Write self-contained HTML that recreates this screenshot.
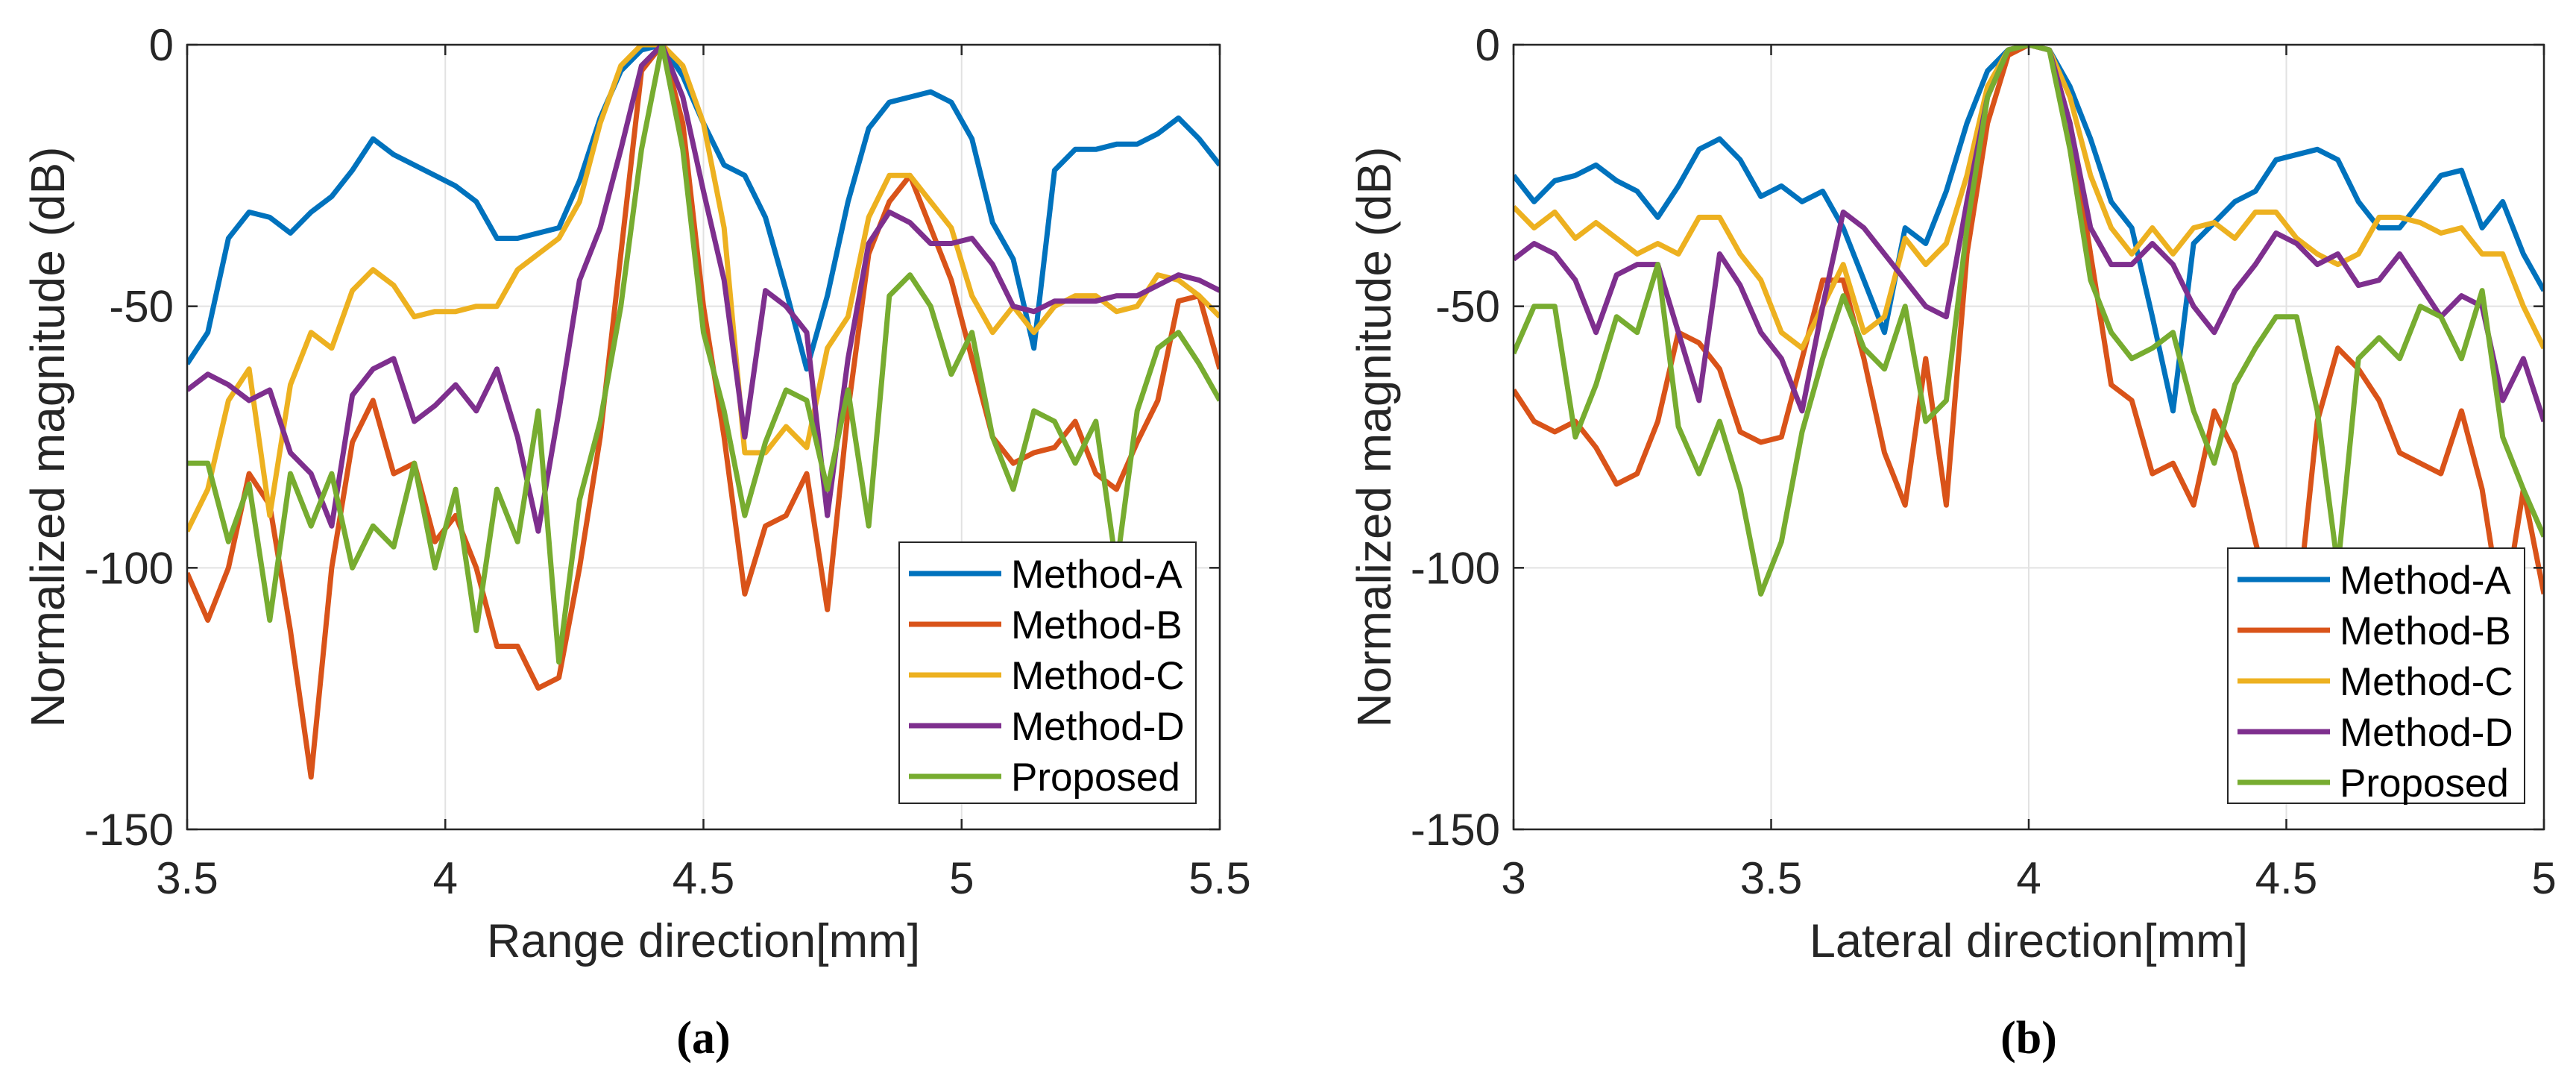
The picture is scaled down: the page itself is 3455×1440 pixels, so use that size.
<!DOCTYPE html>
<html><head><meta charset="utf-8"><style>
html,body{margin:0;padding:0;background:#fff;}
svg{display:block;font-family:"Liberation Sans",sans-serif;}
</style></head><body>
<svg id="fig" width="3455" height="1440" viewBox="0 0 3455 1440" xmlns="http://www.w3.org/2000/svg"></svg>
<script>
const xA = [];for(let i=0;i<51;i++) xA.push(+(3.5+i*0.04).toFixed(2));
const xB = [];for(let i=0;i<51;i++) xB.push(+(3.0+i*0.04).toFixed(2));
const seriesNames = ["Method-A","Method-B","Method-C","Method-D","Proposed"];
const colors = ["#0072BD","#D95319","#EDB120","#7E2F8E","#77AC30"];
const aMethodA=[-61,-55,-37,-32,-33,-36,-32,-29,-24,-18,-21,-23,-25,-27,-30,-37,-37,-36,-35,-26,-14,-5,-1,0,-6,-15,-23,-25,-33,-47,-62,-48,-30,-16,-11,-10,-9,-11,-18,-34,-41,-58,-24,-20,-20,-19,-19,-17,-14,-18,-23];
const aMethodB=[-101,-110,-100,-82,-88,-112,-140,-100,-76,-68,-82,-80,-95,-90,-100,-115,-115,-123,-121,-100,-75,-40,-5,0,-15,-50,-75,-105,-92,-90,-82,-108,-70,-40,-30,-25,-35,-45,-60,-75,-80,-78,-77,-72,-82,-85,-76,-68,-49,-48,-62];
const aMethodC=[-93,-85,-68,-62,-90,-65,-55,-58,-47,-43,-46,-52,-51,-51,-50,-50,-43,-40,-37,-30,-15,-4,0,0,-4,-15,-35,-78,-78,-73,-77,-58,-52,-33,-25,-25,-30,-35,-48,-55,-50,-55,-50,-48,-48,-51,-50,-44,-45,-48,-52];
const aMethodD=[-66,-63,-65,-68,-66,-78,-82,-92,-67,-62,-60,-72,-69,-65,-70,-62,-75,-93,-70,-45,-35,-20,-4,0,-10,-28,-45,-75,-47,-50,-55,-90,-60,-38,-32,-34,-38,-38,-37,-42,-50,-51,-49,-49,-49,-48,-48,-46,-44,-45,-47];
const aProposed=[-80,-80,-95,-84,-110,-82,-92,-82,-100,-92,-96,-80,-100,-85,-112,-85,-95,-70,-118,-87,-72,-50,-20,0,-20,-55,-70,-90,-76,-66,-68,-85,-66,-92,-48,-44,-50,-63,-55,-75,-85,-70,-72,-80,-72,-100,-70,-58,-55,-61,-68];
const bMethodA=[-25,-30,-26,-25,-23,-26,-28,-33,-27,-20,-18,-22,-29,-27,-30,-28,-35,-45,-55,-35,-38,-28,-15,-5,-1,0,-1,-8,-18,-30,-35,-52,-70,-38,-34,-30,-28,-22,-21,-20,-22,-30,-35,-35,-30,-25,-24,-35,-30,-40,-47];
const bMethodB=[-66,-72,-74,-72,-77,-84,-82,-72,-55,-57,-62,-74,-76,-75,-60,-45,-45,-60,-78,-88,-60,-88,-40,-15,-2,0,-1,-15,-40,-65,-68,-82,-80,-88,-70,-78,-95,-110,-110,-72,-58,-62,-68,-78,-80,-82,-70,-85,-110,-85,-105];
const bMethodC=[-31,-35,-32,-37,-34,-37,-40,-38,-40,-33,-33,-40,-45,-55,-58,-50,-42,-55,-52,-37,-42,-38,-25,-8,-1,0,-1,-10,-25,-35,-40,-35,-40,-35,-34,-37,-32,-32,-37,-40,-42,-40,-33,-33,-34,-36,-35,-40,-40,-50,-58];
const bMethodD=[-41,-38,-40,-45,-55,-44,-42,-42,-55,-68,-40,-46,-55,-60,-70,-50,-32,-35,-40,-45,-50,-52,-30,-10,-1,0,-1,-15,-35,-42,-42,-38,-42,-50,-55,-47,-42,-36,-38,-42,-40,-46,-45,-40,-46,-52,-48,-50,-68,-60,-72];
const bProposed=[-59,-50,-50,-75,-65,-52,-55,-42,-73,-82,-72,-85,-105,-95,-74,-60,-48,-58,-62,-50,-72,-68,-35,-10,-1,0,-1,-20,-45,-55,-60,-58,-55,-70,-80,-65,-58,-52,-52,-70,-100,-60,-56,-60,-50,-52,-60,-47,-75,-85,-94];
const aTicks=[3.5,4,4.5,5,5.5], aTickLabels=["3.5","4","4.5","5","5.5"];
const bTicks=[3,3.5,4,4.5,5], bTickLabels=["3","3.5","4","4.5","5"];
const yTicks=[0,-50,-100,-150], yTickLabels=["0","-50","-100","-150"];

const NS="http://www.w3.org/2000/svg";
const svg=document.getElementById('fig');
function mk(tag,attrs,parent){const e=document.createElementNS(NS,tag);for(const k in attrs)e.setAttribute(k,attrs[k]);(parent||svg).appendChild(e);return e;}

function panel(id,L,R,xmin,xmax,xs,data,ticks,tickLabels,xlabel,letter,legX){
  const T=60,B=1112;
  const g=mk('g',{});
  
  
  const sx=v=>L+(v-xmin)/(xmax-xmin)*(R-L);
  const sy=v=>T+(0-v)/150*(B-T);
  const cid='clip'+id;
  const cp=mk('clipPath',{id:cid},g);mk('rect',{x:L,y:T,width:R-L,height:B-T},cp);
  ticks.forEach(t=>{const l=mk('line',{x1:sx(t),x2:sx(t),y1:T,y2:B,stroke:'#e2e2e2','stroke-width':2},g);
    });
  yTicks.forEach(t=>{const l=mk('line',{x1:L,x2:R,y1:sy(t),y2:sy(t),stroke:'#e2e2e2','stroke-width':2},g);
    });
  const lg=mk('g',{'clip-path':'url(#'+cid+')'},g);
  data.forEach((arr,i)=>{
    const pts=arr.map((v,j)=>sx(xs[j]).toFixed(1)+','+sy(v).toFixed(1)).join(' ');
    const p=mk('polyline',{points:pts,fill:'none',stroke:colors[i],'stroke-width':7,'stroke-linejoin':'round'},lg);
    
    
  });
  const box=mk('rect',{x:L,y:T,width:R-L,height:B-T,fill:'none',stroke:'#262626','stroke-width':2.5},g);
  
  ticks.forEach((t,i)=>{
    mk('line',{x1:sx(t),x2:sx(t),y1:B,y2:B-14,stroke:'#262626','stroke-width':2.5},g);
    mk('line',{x1:sx(t),x2:sx(t),y1:T,y2:T+14,stroke:'#262626','stroke-width':2.5},g);
    const tx=mk('text',{x:sx(t),y:B+86,'font-size':60,'text-anchor':'middle',fill:'#262626'},g);
    tx.textContent=tickLabels[i];
    
  });
  yTicks.forEach((t,i)=>{
    mk('line',{x1:L,x2:L+14,y1:sy(t),y2:sy(t),stroke:'#262626','stroke-width':2.5},g);
    mk('line',{x1:R,x2:R-14,y1:sy(t),y2:sy(t),stroke:'#262626','stroke-width':2.5},g);
    const tx=mk('text',{x:L-18,y:sy(t)+21,'font-size':60,'text-anchor':'end',fill:'#262626'},g);
    tx.textContent=yTickLabels[i];
    
  });
  const xl=mk('text',{x:(L+R)/2,y:1283,'font-size':63,'text-anchor':'middle',fill:'#262626'},g);
  xl.textContent=xlabel;
  const yx=L-165, yy=(T+B)/2;
  const yl=mk('text',{x:yx,y:yy,'font-size':64,'text-anchor':'middle',fill:'#262626',transform:'rotate(-90 '+yx+' '+yy+')'},g);
  yl.textContent='Normalized magnitude (dB)';
  const cap=mk('text',{x:(L+R)/2,y:1412,'font-size':62,'font-weight':'bold','text-anchor':'middle',fill:'#000','font-family':'"Liberation Serif",serif'},g);
  cap.textContent=letter;
  const lgX=legX, lgY=(id==='a'?727:735), lgW=398, lgH=(id==='a'?350:342);
  const leg=mk('g',{},g);
  
  mk('rect',{x:lgX,y:lgY,width:lgW,height:lgH,fill:'#fff',stroke:'#262626','stroke-width':2},leg);
  seriesNames.forEach((n,i)=>{
    const cy=lgY+42+i*68;
    const e=mk('g',{},leg);
    
    mk('line',{x1:lgX+13,x2:lgX+137,y1:cy,y2:cy,stroke:colors[i],'stroke-width':7},e);
    const t=mk('text',{x:lgX+150,y:cy+19,'font-size':53,fill:'#000'},e);t.textContent=n;
  });
}
panel('a',251,1636,3.5,5.5,xA,[aMethodA,aMethodB,aMethodC,aMethodD,aProposed],aTicks,aTickLabels,'Range direction[mm]','(a)',1206);
panel('b',2030,3412,3.0,5.0,xB,[bMethodA,bMethodB,bMethodC,bMethodD,bProposed],bTicks,bTickLabels,'Lateral direction[mm]','(b)',2988);
</script>
</body></html>
